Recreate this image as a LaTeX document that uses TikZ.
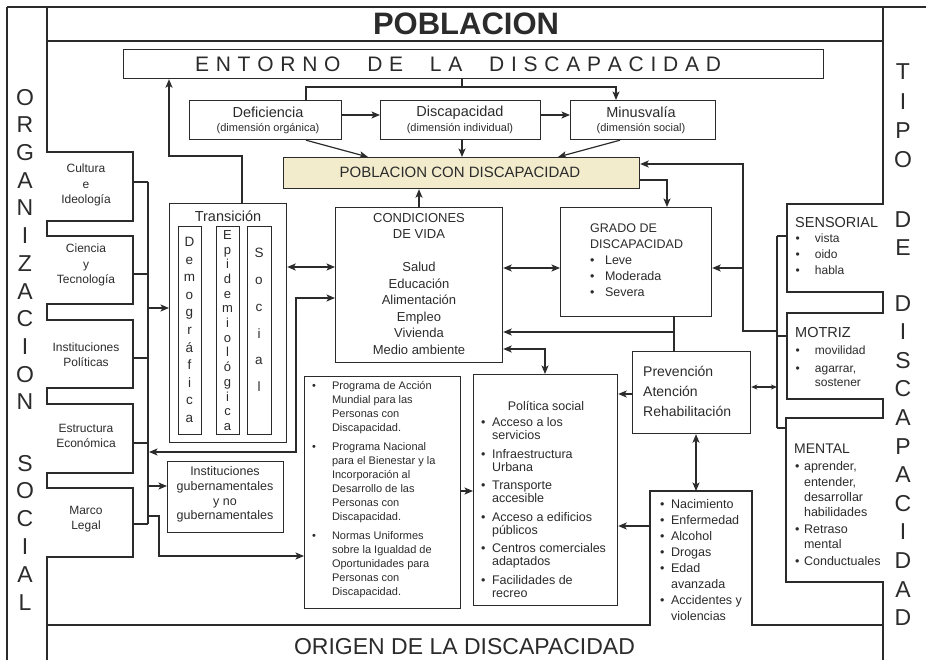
\documentclass[tikz,border=0pt]{standalone}
\usepackage{fontspec}
\setmainfont{Liberation Sans}
\usetikzlibrary{arrows.meta,calc}
\newcommand\myfs[2]{\fontsize{#1}{#2}\selectfont}
\definecolor{beige}{HTML}{F2ECCC}
\definecolor{ink}{HTML}{2B2B2B}
\begin{document}
\begin{tikzpicture}[x=1pt,y=-1pt,
  ln/.style={line width=1.2pt, draw=ink},
  bx/.style={ln, rectangle, inner sep=0pt, anchor=north west},
  hid/.style={rectangle, inner sep=0pt, anchor=north west},
  arr/.style={ln, -{Stealth[length=8.5pt,width=7pt,inset=2pt]}},
  darr/.style={ln, {Stealth[length=8.5pt,width=7pt,inset=2pt]}-{Stealth[length=8.5pt,width=7pt,inset=2pt]}},
  sdarr/.style={ln, {Stealth[length=6pt,width=5pt,inset=1.5pt]}-{Stealth[length=6pt,width=5pt,inset=1.5pt]}},
  txt/.style={inner sep=0pt, text=ink},
]
\useasboundingbox (0,0) rectangle (926,660);

% ---------- frame ----------
\draw[ln] (7,7) -- (926,7);
\draw[ln] (7,7) -- (7,660);
\draw[ln] (47,7) -- (47,152) -- (133,152) -- (133,221) -- (47,221) -- (47,236) -- (133,236) -- (133,304) -- (47,304) -- (47,320) -- (133,320) -- (133,388) -- (47,388) -- (47,404) -- (133,404) -- (133,473) -- (47,473) -- (47,488) -- (133,488) -- (133,557) -- (47,557) -- (47,660);
\draw[ln] (47,41) -- (883,41);
\draw[ln] (883,7) -- (883,204) -- (787,204) -- (787,292) -- (883,292) -- (883,313) -- (787,313) -- (787,399) -- (883,399) -- (883,418) -- (786,418) -- (786,582) -- (883,582) -- (883,660);
\draw[ln] (47,625) -- (650,625) -- (650,491) -- (752,491) -- (752,625) -- (883,625);

% ---------- titles ----------
\node[txt, font=\myfs{31}{34}\bfseries] (pob) at (466,24) {POBLACION};
\node[txt, font=\myfs{23}{26}] (orig) at (464.5,647) {ORIGEN DE LA DISCAPACIDAD};
\node[txt, font=\myfs{23}{27.7}, align=center] (orga) at (25,249.5) {O\\R\\G\\A\\N\\I\\Z\\A\\C\\I\\O\\N};
\node[txt, font=\myfs{23}{27.8}, align=center] (socl) at (25,532.5) {S\\O\\C\\I\\A\\L};
\node[txt, font=\myfs{23}{29.3}, align=center] (tipo) at (903,116) {T\\I\\P\\O};
\node[txt, font=\myfs{23}{28}, align=center] (tde) at (903,234) {D\\E};
\node[txt, font=\myfs{23}{28.6}, align=center] (tdis) at (903,460.5) {D\\I\\S\\C\\A\\P\\A\\C\\I\\D\\A\\D};

% ---------- left tabs ----------
\node[txt, font=\myfs{12}{15.5}, align=center] (cult) at (86,185) {Cultura\\e\\Ideología};
\node[txt, font=\myfs{12}{15.5}, align=center] (cien) at (86,265) {Ciencia\\y\\Tecnología};
\node[txt, font=\myfs{12}{15.5}, align=center] (inpo) at (86,354.5) {Instituciones\\Políticas};
\node[txt, font=\myfs{12}{15.5}, align=center] (estr) at (86,436) {Estructura\\Económica};
\node[txt, font=\myfs{12}{15.5}, align=center] (marc) at (86,519) {Marco\\Legal};

% ---------- boxes ----------
\node[bx, minimum width=700pt, minimum height=29pt] (ent) at (123,49) {};
\node[txt, font=\myfs{21}{24}] (entt) at (458,64) {\makebox[526pt][s]{E\hfil N\hfil T\hfil O\hfil R\hfil N\hfil O\hspace{20pt plus 1fil}D\hfil E\hspace{20pt plus 1fil}L\hfil A\hspace{20pt plus 1fil}D\hfil I\hfil S\hfil C\hfil A\hfil P\hfil A\hfil C\hfil I\hfil D\hfil A\hfil D}};

\node[bx, minimum width=152pt, minimum height=39pt] (def) at (189,100) {};
\node[txt, font=\myfs{14.5}{16}] (deft) at (268,112.5) {Deficiencia};
\node[txt, font=\myfs{11}{13}] (defs) at (268,129) {(dimensión orgánica)};
\node[bx, minimum width=160pt, minimum height=39pt] (disc) at (380,100) {};
\node[txt, font=\myfs{14.5}{16}] (disct) at (460,112.5) {Discapacidad};
\node[txt, font=\myfs{11}{13}] (discs) at (460,129) {(dimensión individual)};
\node[bx, minimum width=145pt, minimum height=39pt] (minus) at (570,100) {};
\node[txt, font=\myfs{14.5}{16}] (minust) at (641,112.5) {Minusvalía};
\node[txt, font=\myfs{11}{13}] (minuss) at (641,129) {(dimensión social)};

\node[bx, fill=beige, minimum width=356pt, minimum height=31pt] (pcd) at (283,157) {};
\node[txt, font=\myfs{15}{17}] (pcdt) at (460,172.5) {POBLACION CON DISCAPACIDAD};

\node[bx, minimum width=167pt, minimum height=155pt] (cond) at (335,207) {};
\node[txt, font=\myfs{13}{16.5}, align=center] (condt) at (419,284) {CONDICIONES\\DE VIDA\\[16.5pt]Salud\\Educación\\Alimentación\\Empleo\\Vivienda\\Medio ambiente};

\node[bx, minimum width=151pt, minimum height=109pt] (grado) at (560,207) {};
\node[txt, anchor=north west, font=\myfs{12.5}{16}] (gradot) at (590,221) {\begin{tabular}{@{}l@{\hspace{10.5pt}}l@{}}\multicolumn{2}{@{}l@{}}{GRADO DE}\\ \multicolumn{2}{@{}l@{}}{DISCAPACIDAD}\\ \textbullet & Leve\\ \textbullet & Moderada\\ \textbullet & Severa\end{tabular}};

\node[bx, minimum width=117pt, minimum height=239pt] (trans) at (169,203) {};
\node[txt, font=\myfs{14.5}{16}] (transt) at (228,216) {Transición};
\node[bx, minimum width=23pt, minimum height=208pt] (demo) at (178,226) {};
\node[bx, minimum width=23pt, minimum height=208pt] (epi) at (216,226) {};
\node[bx, minimum width=24pt, minimum height=208pt] (soc) at (247,226) {};
\node[txt, font=\myfs{13.5}{17.6}, align=center] (demot) at (189.5,330) {D\\e\\m\\o\\g\\r\\á\\f\\i\\c\\a};
\node[txt, font=\myfs{13}{14.7}, align=center] (epit) at (227.5,330.5) {E\\p\\i\\d\\e\\m\\i\\o\\l\\ó\\g\\i\\c\\a};
\node[txt, font=\myfs{13.5}{26.8}, align=center] (soct) at (259,320) {S\\o\\c\\i\\a\\l};

\node[bx, minimum width=116pt, minimum height=71pt] (instg) at (167,461) {};
\node[txt, font=\myfs{12.5}{14.7}, align=center] (instgt) at (225,494.5) {Instituciones\\gubernamentales\\y no\\gubernamentales};

\node[bx, minimum width=156pt, minimum height=232pt] (prog) at (304,376) {};
\node[txt, anchor=north west, font=\myfs{11}{14}] (progt) at (312,379.5) {\begin{tabular}{@{}l@{\hspace{16pt}}l@{}}
\textbullet & Programa de Acción\\ & Mundial para las\\ & Personas con\\ & Discapacidad.\\[5pt]
\textbullet & Programa Nacional\\ & para el Bienestar y la\\ & Incorporación al\\ & Desarrollo de las\\ & Personas con\\ & Discapacidad.\\[5pt]
\textbullet & Normas Uniformes\\ & sobre la Igualdad de\\ & Oportunidades para\\ & Personas con\\ & Discapacidad.
\end{tabular}};

\node[bx, minimum width=144pt, minimum height=231pt] (pol) at (473,374) {};
\node[txt, font=\myfs{12.5}{14}] (polh) at (546,406) {Política social};
\node[txt, anchor=north west, font=\myfs{12.5}{13}] (polt) at (481,417.5) {\begin{tabular}{@{}l@{\hspace{6.5pt}}l@{}}
\textbullet & Acceso a los\\ & servicios\\[5.5pt]
\textbullet & Infraestructura\\ & Urbana\\[5.5pt]
\textbullet & Transporte\\ & accesible\\[5.5pt]
\textbullet & Acceso a edificios\\ & públicos\\[5.5pt]
\textbullet & Centros comerciales\\ & adaptados\\[5.5pt]
\textbullet & Facilidades de\\ & recreo
\end{tabular}};

\node[bx, minimum width=118pt, minimum height=82pt] (prev) at (632,351) {};
\node[txt, anchor=west, font=\myfs{14}{20}, align=left] (prevt) at (643,391) {Prevención\\Atención\\Rehabilitación};

\node[hid, minimum width=102pt, minimum height=134pt] (nac) at (650,491) {};
\node[txt, anchor=north west, font=\myfs{12.5}{16}] (nact) at (660,497) {\begin{tabular}{@{}l@{\hspace{6.5pt}}l@{}}
\textbullet & Nacimiento\\ \textbullet & Enfermedad\\ \textbullet & Alcohol\\ \textbullet & Drogas\\ \textbullet & Edad\\ & avanzada\\ \textbullet & Accidentes y\\ & violencias
\end{tabular}};

% ---------- right tabs ----------
\node[txt, anchor=west, font=\myfs{14.5}{16}] (sens) at (795,223) {SENSORIAL};
\node[txt, anchor=north west, font=\myfs{12}{16}] (senst) at (795.5,231.5) {\begin{tabular}{@{}l@{\hspace{15pt}}l@{}}\textbullet & vista\\ \textbullet & oido\\ \textbullet & habla\end{tabular}};
\node[txt, anchor=west, font=\myfs{14.5}{16}] (motr) at (795,333) {MOTRIZ};
\node[txt, anchor=north west, font=\myfs{12}{14}] (motrt) at (795.5,344.5) {\begin{tabular}{@{}l@{\hspace{15pt}}l@{}}\textbullet & movilidad\\[4pt] \textbullet & agarrar,\\ & sostener\end{tabular}};
\node[txt, anchor=west, font=\myfs{14}{16}] (ment) at (794,449) {MENTAL};
\node[txt, anchor=north west, font=\myfs{12.5}{15.3}] (mentt) at (795,460) {\begin{tabular}{@{}l@{\hspace{4.5pt}}l@{}}
\textbullet & aprender,\\ & entender,\\ & desarrollar\\ & habilidades\\[1.5pt]
\textbullet & Retraso\\ & mental\\[1.5pt]
\textbullet & Conductuales
\end{tabular}};

% ---------- connectors top ----------
\draw[ln] (ent.south -| 462,0) -- (462,87);
\draw[arr] (def.north -| 306,0) -- (306,87) -- (616,87) -- (minus.north -| 616,0);
\draw[arr] (def.east |- 0,115) -- (disc.west |- 0,115);
\draw[arr] (disc.east |- 0,115) -- (minus.west |- 0,115);
\draw[arr] (def.south -| 306,0) -- (pcd.north -| 368,0);
\draw[arr] (disc.south -| 462,0) -- (pcd.north -| 462,0);
\draw[arr] (minus.south -| 620,0) -- (pcd.north -| 558,0);
\draw[arr] (cond.north -| 419,0) -- (pcd.south -| 419,0);
\draw[arr] (pcd.east |- 0,180) -| (grado.north -| 667,0);
\draw[arr] (trans.north -| 242,0) -- (242,156) -- (169,156) -- (ent.south -| 169,0);

% ---------- right side ----------
\coordinate (rb1) at (777,236);
\coordinate (rb2) at (777,428);
\draw[ln] (rb1) -- (rb2);
\draw[ln] (rb1) -- (787,236);
\draw[ln] (777,336) -- (787,336);
\draw[ln] (rb2) -- (786,428);
\draw[arr] (777,331) -- (743,331) -- (743,164) -- (pcd.east |- 0,164);
\draw[arr] (743,268) -- (grado.east |- 0,268);
\draw[darr] (cond.east |- 0,268) -- (grado.west |- 0,268);
\draw[ln] (grado.south -| 674,0) -- (prev.north -| 674,0);
\draw[arr] (674,332) -- (cond.east |- 0,332);
\draw[darr] (cond.east |- 0,349) -| (pol.north -| 545,0);
\draw[arr] (prev.west |- 0,394) -- (pol.east |- 0,394);
\draw[sdarr] (prev.east |- 0,387) -- (777,387);
\draw[darr] (prev.south -| 696,0) -- (nac.north -| 696,0);
\draw[arr] (nac.west |- 0,526) -- (pol.east |- 0,526);
\draw[arr] (prog.east |- 0,491) -- (pol.west |- 0,491);

% ---------- left bus ----------
\coordinate (lb1) at (148,182);
\coordinate (lb2) at (148,524);
\draw[ln] (lb1) -- (lb2);
\draw[ln] (133,182) -- (lb1);
\draw[ln] (133,274) -- (148,274);
\draw[ln] (133,358) -- (148,358);
\draw[ln] (133,443) -- (148,443);
\draw[ln] (133,524) -- (lb2);
\draw[arr] (148,308) -- (trans.west |- 0,308);
\draw[arr] (148,486) -- (instg.west |- 0,486);
\draw[arr] (148,516) -- (159,516) -- (159,556) -- (prog.west |- 0,556);
\draw[darr] (149,452) -| (296,298) -- (cond.west |- 0,298);
\draw[darr] (trans.east |- 0,267) -- (cond.west |- 0,267);

\end{tikzpicture}
\end{document}
